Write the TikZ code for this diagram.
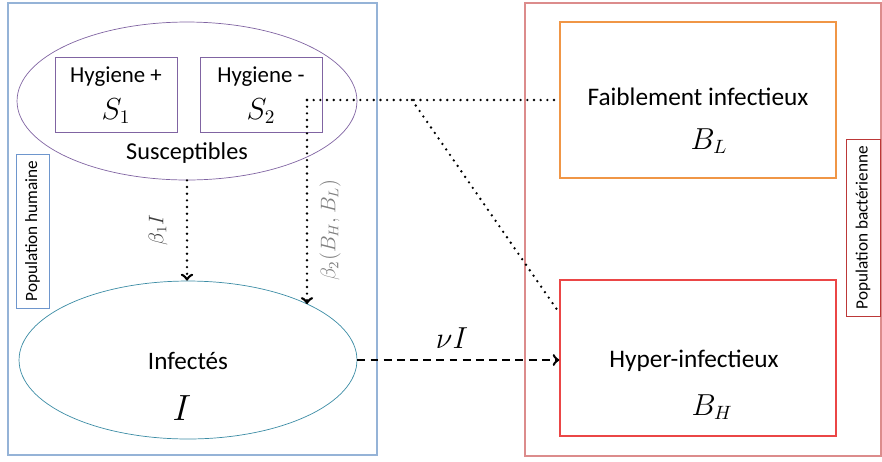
\documentclass[tikz,border=0pt]{standalone}
\usepackage{xcolor}
\usepackage{fontspec}
\setmainfont{Carlito}
\usepackage{tikz}
\usetikzlibrary{shapes.geometric}

\definecolor{humblue}{RGB}{149,179,215}
\definecolor{popblue}{RGB}{110,150,205}
\definecolor{suspurple}{RGB}{128,100,162}
\definecolor{infteal}{RGB}{60,140,165}
\definecolor{loworange}{RGB}{240,150,70}
\definecolor{hyperred}{RGB}{235,70,70}
\definecolor{bactred}{RGB}{220,140,140}

\tikzset{
    dotline/.style={line width=1.5pt, dash pattern=on 0pt off 3.8pt, line cap=round},
    dashline/.style={line width=1.4pt, dash pattern=on 4.5pt off 3pt},
    popbox/.style={draw, rectangle, rotate=90, inner sep=0pt, font=\fontsize{9.8}{11}\selectfont}
}

\begin{document}
\begin{tikzpicture}[x=0.02cm, y=-0.02cm]
    \useasboundingbox (0,0) rectangle (882,461);

    % Population humaine
    \node[draw=humblue, thick, rectangle, minimum width=7.38cm, minimum height=9.04cm] (hum) at (192.5,229) {};
    \node[popbox, draw=popblue, minimum width=3.08cm, minimum height=0.66cm] (phlbl) at (32.5,231) {Population humaine};

    % Susceptibles
    \node[draw=suspurple, ellipse, inner sep=0pt, minimum width=6.8cm, minimum height=3.16cm] (sus) at (187,101) {};
    \node[draw=suspurple, rectangle, minimum width=2.44cm, minimum height=1.5cm, align=center, font=\fontsize{13}{15}\selectfont] (hp) at (116,95) {Hygiene +\\[6pt]\fontsize{16}{18}\selectfont$S_1$};
    \node[draw=suspurple, rectangle, minimum width=2.44cm, minimum height=1.5cm, align=center, font=\fontsize{13}{15}\selectfont] (hm) at (261,95) {Hygiene -\\[6pt]\fontsize{16}{18}\selectfont$S_2$};
    \node[font=\fontsize{13.8}{16}\selectfont] (suslbl) at (187,153) {Susceptibles};

    % Infectes
    \node[draw=infteal, ellipse, inner sep=0pt, minimum width=6.76cm, minimum height=3.16cm] (inf) at (188,360) {};
    \node[font=\fontsize{14.3}{16}\selectfont] (inflbl) at (188,361) {Infectés};
    \node[font=\fontsize{20}{22}\selectfont] (infvar) at (182,408) {$I$};

    % Population bacterienne
    \node[draw=bactred, thick, rectangle, minimum width=7.12cm, minimum height=9.06cm] (bac) at (703,229.5) {};
    \node[popbox, draw=hyperred!80!black, minimum width=3.54cm, minimum height=0.68cm] (pblbl) at (863,227.5) {Population bactérienne};

    % Faiblement infectieux
    \node[draw=loworange, thick, rectangle, minimum width=5.52cm, minimum height=3.12cm] (fb) at (698,100) {};
    \node[font=\fontsize{14.4}{16}\selectfont] (fblbl) at (698,97) {Faiblement infectieux};
    \node[font=\fontsize{16}{18}\selectfont] (fbvar) at (709,141) {$B_L$};

    % Hyper-infectieux
    \node[draw=hyperred, thick, rectangle, minimum width=5.52cm, minimum height=3.12cm] (hy) at (698,358) {};
    \node[font=\fontsize{14.4}{16}\selectfont] (hylbl) at (694,361) {Hyper-infectieux};
    \node[font=\fontsize{16}{18}\selectfont] (hyvar) at (712,407) {$B_H$};

    % Arrows
    \coordinate (j) at (307,100);
    \coordinate (k) at (412,100);
    \draw[dotline, ->] (sus.south) -- (sus.south |- inf.north);
    \draw[dotline] (j) -- (fb.west);
    \draw[dotline, ->] (j) -- (j |- inf.25);
    \draw[dotline] (k) -- (hy.162);
    \draw[dashline, ->] (inf.east) -- (inf.east -| hy.west);

    % Labels
    \node[rotate=90, font=\large, text=black!75] (b1) at (158,230) {$\beta_1 I$};
    \node[rotate=90, font=\fontsize{11.5}{13}\selectfont, text=black!50] (b2) at (330,230) {$\beta_2(B_H,B_L)$};
    \node[font=\fontsize{17}{19}\selectfont] (nu) at (452,338) {$\nu I$};
\end{tikzpicture}
\end{document}
